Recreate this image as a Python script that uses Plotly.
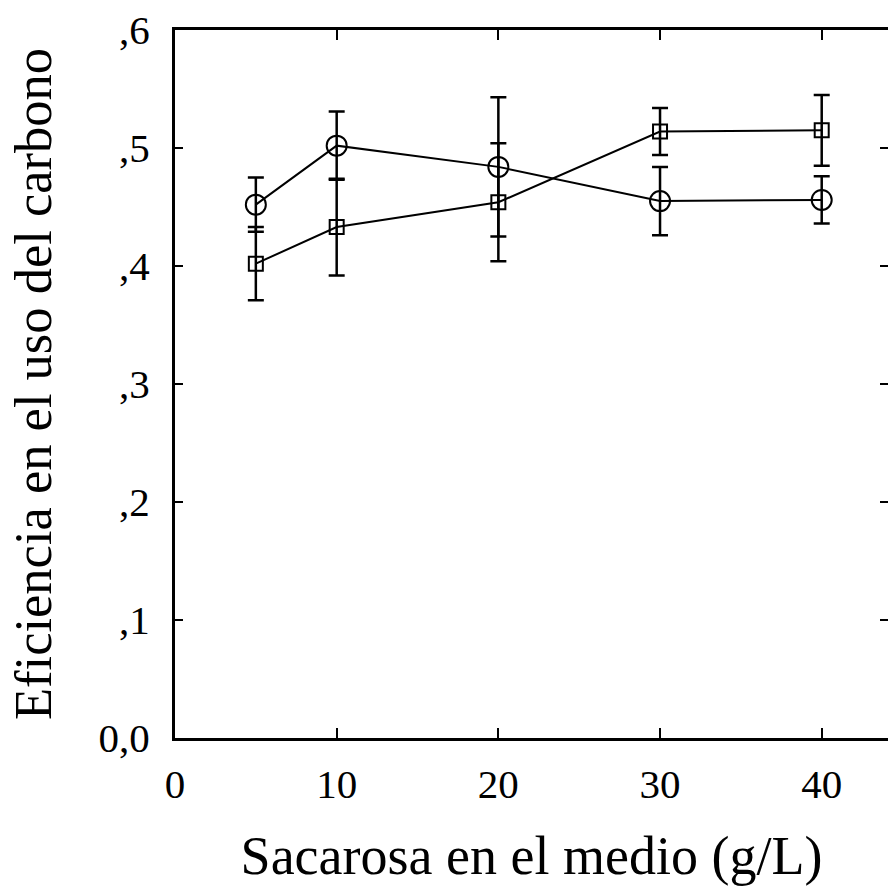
import plotly.graph_objects as go

sacarosa = [5, 10, 20, 30, 40]
circulo = [0.452, 0.502, 0.484, 0.455, 0.456]
circulo_err = [0.023, 0.029, 0.059, 0.029, 0.020]
cuadro = [0.402, 0.433, 0.454, 0.514, 0.515]
cuadro_err = [0.031, 0.041, 0.050, 0.020, 0.030]

x_ticks = [0, 10, 20, 30, 40]
y_ticks = [0.0, 0.1, 0.2, 0.3, 0.4, 0.5, 0.6]
y_ticktext = ["0,0", ",1", ",2", ",3", ",4", ",5", ",6"]

FONT = "Liberation Serif"

fig = go.Figure()
fig.add_trace(go.Scatter(
    x=sacarosa, y=circulo, mode="lines+markers",
    line=dict(color="black", width=2),
    marker=dict(symbol="circle-open", size=20, color="black", line=dict(width=2)),
    error_y=dict(type="data", array=circulo_err, visible=True, color="black", thickness=2.5, width=8),
    showlegend=False,
))
fig.add_trace(go.Scatter(
    x=sacarosa, y=cuadro, mode="lines+markers",
    line=dict(color="black", width=2),
    marker=dict(symbol="square-open", size=14, color="black", line=dict(width=2)),
    error_y=dict(type="data", array=cuadro_err, visible=True, color="black", thickness=2.5, width=8),
    showlegend=False,
))
# right-side ticks only (no line)
fig.add_trace(go.Scatter(x=[None], y=[None], yaxis="y2", showlegend=False, hoverinfo="skip"))

fig.update_layout(
    width=888, height=886,
    margin=dict(l=175, r=0, t=30, b=148),
    paper_bgcolor="white", plot_bgcolor="white",
    font=dict(family=FONT, color="black"),
    xaxis=dict(
        range=[0, 44.1], tickvals=x_ticks, ticks="inside", ticklen=10, tickwidth=1.5,
        tickcolor="black", showline=True, linecolor="black", linewidth=3, mirror="ticks",
        showgrid=False, zeroline=False, tickfont=dict(size=41, family=FONT),
        ticklabelstandoff=8,
        title=dict(text="Sacarosa en el medio (g/L)", font=dict(size=54, family=FONT), standoff=31),
    ),
    yaxis=dict(
        range=[0, 0.6], tickvals=y_ticks, ticktext=y_ticktext, ticks="inside", ticklen=8,
        tickwidth=1.5, tickcolor="black", showline=True, linecolor="black", linewidth=3,
        showgrid=False, zeroline=False, tickfont=dict(size=41, family=FONT),
        ticklabelstandoff=14,
        title=dict(text="Eficiencia en el uso del carbono", font=dict(size=52.5, family=FONT), standoff=31),
    ),
    yaxis2=dict(
        overlaying="y", side="right", range=[0, 0.6], tickvals=y_ticks, ticks="inside",
        ticklen=8, tickwidth=1.5, tickcolor="black", showticklabels=False, showline=False,
        showgrid=False, zeroline=False,
    ),
)

fig.write_html("out.html")
